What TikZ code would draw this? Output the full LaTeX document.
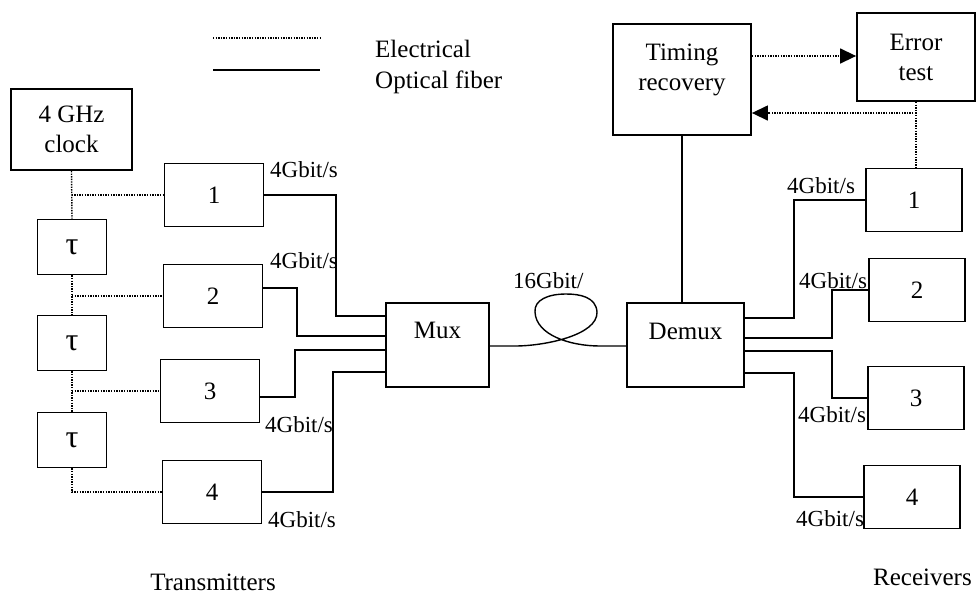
\documentclass[tikz,border=0pt]{standalone}
\usepackage{fontspec}
\setmainfont{Liberation Serif}
\usetikzlibrary{arrows.meta,positioning}

\begin{document}
\begin{tikzpicture}[x=1pt,y=-1pt,>={Triangle[length=16pt,width=15pt]},
    box/.style={draw,line width=1.8pt,inner sep=0pt,align=center,font=\fontsize{25}{30}\selectfont},
    txt/.style={inner sep=0pt,font=\fontsize{25}{30}\selectfont},
    elec/.style={line width=1.4pt,dash pattern=on 1.4pt off 1.2pt},
    fiber/.style={line width=1.8pt},
    rate/.style={inner sep=0pt,anchor=base west,font=\fontsize{23}{26}\selectfont}]
  \useasboundingbox (0,0) rectangle (976,598);
  % legend
  \draw[elec] (213,38) -- (320,38);
  \draw[fiber] (213,70) -- (320,70);
  \node[txt,anchor=base west] (keyelec) at (375,57) {Electrical};
  \node[txt,anchor=base west] (keyfiber) at (375,88) {Optical fiber};
  % transmitter side
  \node[box,minimum width=121pt,minimum height=81pt] (clock) at (71.5,129.5) {4 GHz\\clock};
  \foreach \n/\y in {1/247,2/343,3/440}
    \node[box,minimum width=69pt,minimum height=55pt,font=\fontsize{32}{32}\selectfont] (tau\n) at (72,\y) {τ};
  \foreach \n/\x/\y in {1/214/195,2/213/296,3/210/391,4/212/492}
    \node[box,minimum width=99pt,minimum height=63pt] (t\n) at (\x,\y) {\n};
  \node[box,minimum width=103pt,minimum height=84pt] (mux) at (437.5,345) {};
  \node[txt] (muxtxt) at ([yshift=15pt]mux.center) {Mux};
  % receiver side
  \node[box,minimum width=117pt,minimum height=84pt] (demux) at (685.5,345) {};
  \node[txt] (demuxtxt) at ([yshift=14pt]demux.center) {Demux};
  \node[box,minimum width=138pt,minimum height=111pt] (timing) at (682,79.5) {};
  \node[txt,align=center] (timingtxt) at ([yshift=10pt]timing.center) {Timing\\recovery};
  \node[box,minimum width=118pt,minimum height=88pt] (error) at (916,57) {Error\\test};
  \foreach \n/\x/\y in {1/914/200,2/917/290,3/916/398,4/912/497}
    \node[box,minimum width=96pt,minimum height=63pt] (r\n) at (\x,\y) {\n};
  % electrical lines
  \draw[elec] (clock.south) -- (tau1.north);
  \draw[elec] (tau1.south) -- (tau2.north);
  \draw[elec] (tau2.south) -- (tau3.north);
  \draw[elec] (tau3.south) |- (t4.west);
  \draw[elec] (clock.south |- t1.west) -- (t1.west);
  \draw[elec] (tau1.south |- t2.west) -- (t2.west);
  \draw[elec] (tau2.south |- t3.west) -- (t3.west);
  \draw[elec,->] (timing.east |- 0,56) -- (error.west |- 0,56);
  \draw[elec] (error.south) -- (error.south |- r1.north);
  \draw[elec,->] (error.south |- 0,113) -- (timing.east |- 0,113);
  % fibers
  \draw[fiber] (t1.east) -| (336,316) -- (mux.west |- 336,316);
  \draw[fiber] ([yshift=8pt]t2.east) -| (297,336) -- (mux.west |- 297,336);
  \draw[fiber] ([yshift=-6pt]t3.east) -| (295,350) -- (mux.west |- 295,350);
  \draw[fiber] (t4.east) -| (333,372) -- (mux.west |- 333,372);
  \draw[line width=1.4pt] (mux.east |- 0,346) -- (515,346)
    .. controls (545,346) and (598,335) .. (597,312)
    .. controls (596,297) and (580,294) .. (566,294)
    .. controls (548,294) and (534,300) .. (535,312)
    .. controls (536,335) and (570,346) .. (600,346) -- (demux.west |- 0,346);
  \draw[line width=1.4pt] (timing.south) -- (timing.south |- demux.north);
  \draw[line width=1.4pt] (demux.east |- 0,318) -| (r1.west -| 794,0) -- (r1.west);
  \draw[line width=1.4pt] (demux.east |- 0,338) -| (r2.west -| 832,0) -- (r2.west);
  \draw[line width=1.4pt] (demux.east |- 0,351) -| (r3.west -| 832,0) -- (r3.west);
  \draw[line width=1.4pt] (demux.east |- 0,373) -| (r4.west -| 794,0) -- (r4.west);
  % rates
  \foreach \n/\x/\y in {1/270/177,2/270/268,3/265/432,4/268/527,5/787/193,6/799/288,7/798/422,8/796/526}
    \node[rate] (rate\n) at (\x,\y) {4Gbit/s};
  \node[rate] (linerate) at (513,288) {16Gbit/};
  \node[txt,anchor=base] (txlbl) at (213,590) {Transmitters};
  \node[txt,anchor=base west] (rxlbl) at (873,585) {Receivers};
\end{tikzpicture}
\end{document}
